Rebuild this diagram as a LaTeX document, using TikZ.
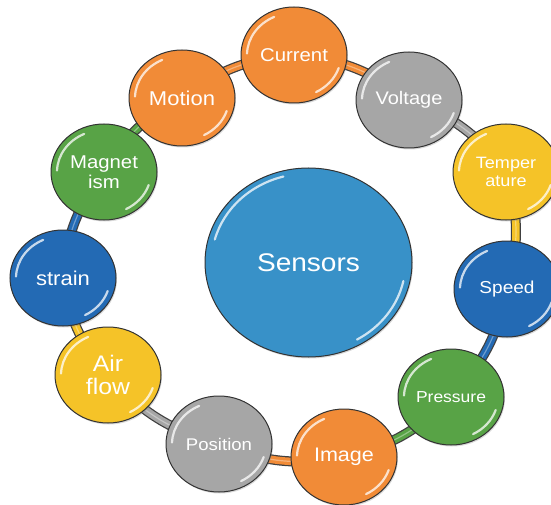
\documentclass[tikz,border=0pt]{standalone}
\usepackage{fontspec}
\newfontfamily\lab{Liberation Sans}[FakeStretch=1.1]
\usetikzlibrary{backgrounds,shapes.geometric,shadows}
\definecolor{cOr}{HTML}{F18B37}
\definecolor{cGy}{HTML}{A6A6A6}
\definecolor{cYe}{HTML}{F5C328}
\definecolor{cBl}{HTML}{236AB4}
\definecolor{cGn}{HTML}{58A346}
\definecolor{cCe}{HTML}{3891C8}
\begin{document}
\begin{tikzpicture}[x=1pt,y=1pt,
  bub/.style={ellipse, draw=black!80, line width=1pt, minimum width=106pt,
    minimum height=96pt, inner sep=0pt, text=white, align=center,
    drop shadow={shadow xshift=1pt,shadow yshift=-1.5pt,opacity=.3}},
  fs/.style n args={2}{font=\lab\fontsize{#1pt}{#2pt}\selectfont},
  gloss/.style={white, line width=2.2pt, line cap=round, opacity=.75},
  barout/.style={line width=10pt, draw=black!75},
  barin/.style={line width=7.5pt, draw=#1}]
\useasboundingbox (0,0) rectangle (551,-505);
\node[bub, fill=cCe, minimum width=207pt, minimum height=189pt, fs={25.5}{27}] (sen) at (308.5,-262.5) {Sensors};
\node[bub, fill=cOr, fs={18.5}{19.5}] (cur) at (294,-55) {Current};
\node[bub, fill=cGy, fs={18.2}{19}] (vol) at (409,-100) {Voltage};
\node[bub, fill=cYe, fs={16.4}{18}] (tem) at (506,-172) {Temper\\ature};
\node[bub, fill=cBl, fs={17.3}{18}] (spd) at (507,-289) {Speed};
\node[bub, fill=cGn, fs={15.9}{17}] (pre) at (451,-397) {Pressure};
\node[bub, fill=cOr, fs={19.6}{20}] (img) at (344,-457) {Image};
\node[bub, fill=cGy, fs={16.9}{18}] (pos) at (219,-444) {Position};
\node[bub, fill=cYe, fs={22.5}{23}] (air) at (108,-375) {Air\\flow};
\node[bub, fill=cBl, fs={20}{21}] (str) at (63,-278) {strain};
\node[bub, fill=cGn, fs={18.5}{19.5}] (mag) at (104,-172) {Magnet\\ism};
\node[bub, fill=cOr, fs={20}{21}] (mot) at (182,-98) {Motion};
\begin{scope}[on background layer]
\foreach \a/\b/\c in {cur/vol/cOr, vol/tem/cGy, tem/spd/cYe, spd/pre/cBl,
  pre/img/cGn, img/pos/cOr, pos/air/cGy, air/str/cYe, str/mag/cBl,
  mag/mot/cGn, mot/cur/cOr}{
  \draw[barout] (\a.center) to[bend left=16] (\b.center);
  \draw[barin=\c] (\a.center) to[bend left=16] (\b.center);
  \draw[line width=1.2pt, white, opacity=.35] (\a.center) to[bend left=16] (\b.center);
}
\end{scope}
\foreach \n in {cur,vol,tem,spd,pre,img,pos,air,str,mag,mot}{
  \draw[gloss] ([shift={(115:47pt and 42pt)}]\n.center) arc[start angle=115, end angle=178, x radius=47pt, y radius=42pt];
  \draw[gloss] ([shift={(-18:47pt and 42pt)}]\n.center) arc[start angle=-18, end angle=-62, x radius=47pt, y radius=42pt];
}
\draw[gloss] ([shift={(105:97pt and 89pt)}]sen.center) arc[start angle=105, end angle=165, x radius=97pt, y radius=89pt];
\draw[gloss] ([shift={(-12:97pt and 89pt)}]sen.center) arc[start angle=-12, end angle=-60, x radius=97pt, y radius=89pt];
\end{tikzpicture}
\end{document}
